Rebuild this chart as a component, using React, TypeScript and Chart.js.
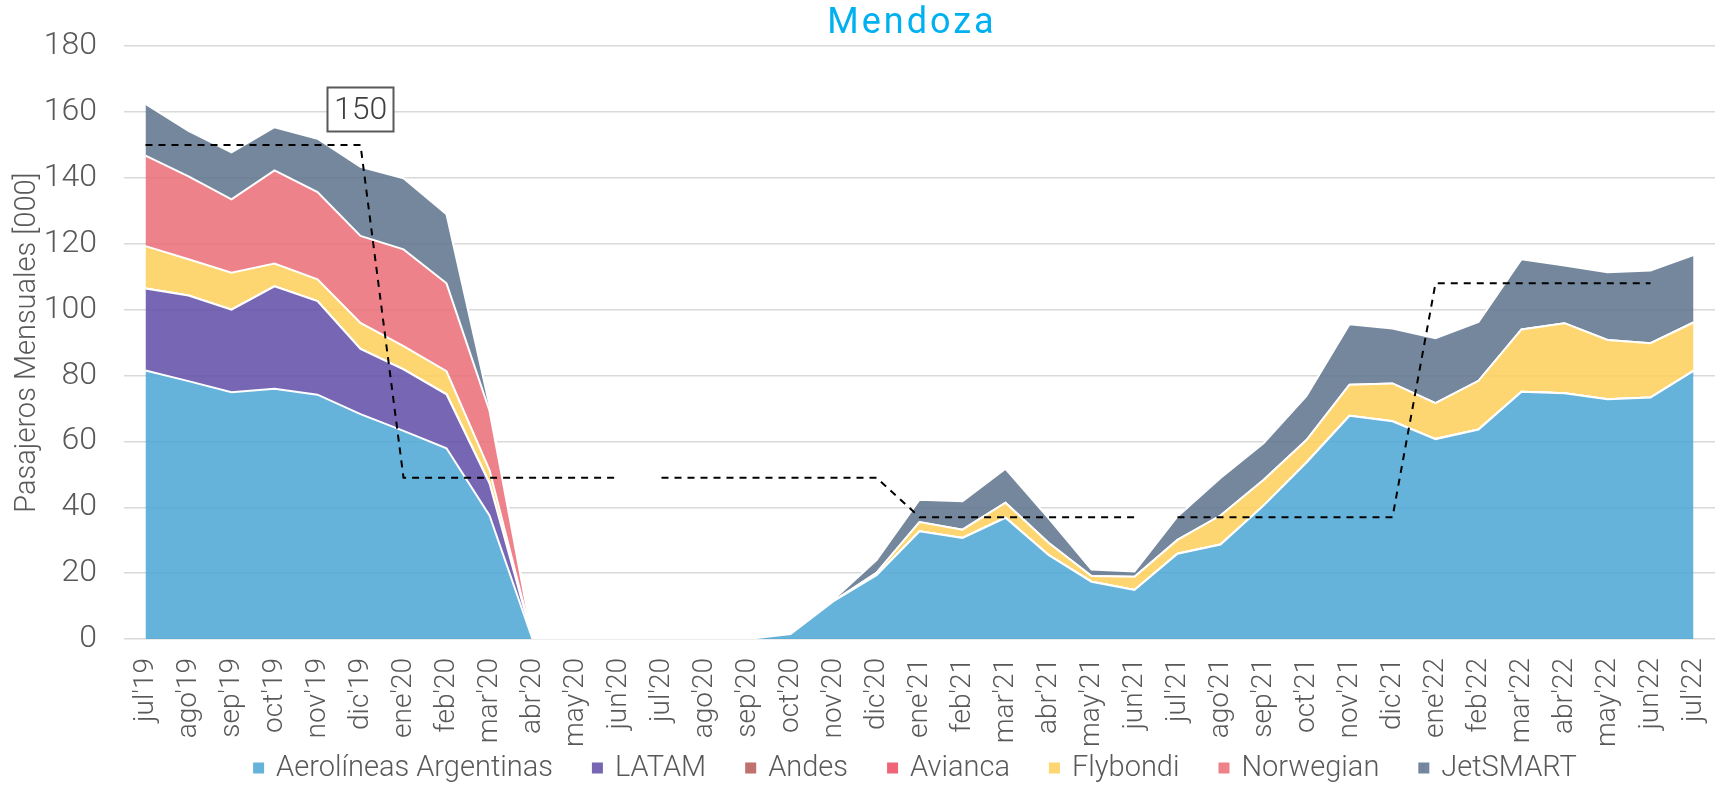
import { useEffect, useRef } from "react";
import { Chart, registerables } from "chart.js";

Chart.register(...registerables);

// ---------- DATA ----------
const months = [
  "jul'19", "ago'19", "sep'19", "oct'19", "nov'19", "dic'19",
  "ene'20", "feb'20", "mar'20", "abr'20", "may'20", "jun'20",
  "jul'20", "ago'20", "sep'20", "oct'20", "nov'20", "dic'20",
  "ene'21", "feb'21", "mar'21", "abr'21", "may'21", "jun'21",
  "jul'21", "ago'21", "sep'21", "oct'21", "nov'21", "dic'21",
  "ene'22", "feb'22", "mar'22", "abr'22", "may'22", "jun'22", "jul'22",
];

const aerolineas = [
  81.5, 78.3, 74.9, 76.0, 74.2, 68.3, 63.2, 57.9, 37.5, 0, 0, 0,
  0, 0, 0, 1.5, 11.5, 19.4, 32.7, 30.7, 36.8, 25.5, 17.4, 14.9,
  25.9, 28.7, 40.5, 53.6, 67.8, 66.1, 60.7, 63.6, 75.1, 74.6, 72.8, 73.3, 81.4,
];
const latam = [
  24.9, 26.0, 25.1, 31.1, 28.4, 19.8, 18.7, 16.4, 9.8, 0, 0, 0,
  0, 0, 0, 0, 0, 0, 0, 0, 0, 0, 0, 0,
  0, 0, 0, 0, 0, 0, 0, 0, 0, 0, 0, 0, 0,
];
const andes = [
  0, 0, 0, 0, 0, 0, 0, 0, 0, 0, 0, 0,
  0, 0, 0, 0, 0, 0, 0, 0, 0, 0, 0, 0,
  0, 0, 0, 0, 0, 0, 0, 0, 0, 0, 0, 0, 0,
];
const avianca = [
  0, 0, 0, 0, 0, 0, 0, 0, 0, 0, 0, 0,
  0, 0, 0, 0, 0, 0, 0, 0, 0, 0, 0, 0,
  0, 0, 0, 0, 0, 0, 0, 0, 0, 0, 0, 0, 0,
];
const flybondi = [
  12.9, 11.0, 11.2, 6.9, 6.6, 7.9, 7.0, 7.0, 4.0, 0, 0, 0,
  0, 0, 0, 0, 0, 0.7, 2.8, 2.5, 4.6, 3.7, 1.7, 4.0,
  4.2, 8.8, 7.8, 6.8, 9.4, 11.5, 10.9, 14.8, 18.9, 21.3, 18.0, 16.5, 14.7,
];
const norwegian = [
  27.5, 25.2, 22.3, 28.3, 26.5, 26.4, 29.4, 26.7, 18.0, 0, 0, 0,
  0, 0, 0, 0, 0, 0, 0, 0, 0, 0, 0, 0,
  0, 0, 0, 0, 0, 0, 0, 0, 0, 0, 0, 0, 0,
];
const jetsmart = [
  15.7, 13.8, 14.3, 13.1, 16.2, 21.0, 21.6, 21.0, 1.7, 0, 0, 0,
  0, 0, 0, 0, 0.5, 3.9, 6.8, 8.6, 10.3, 7.5, 2.0, 1.6,
  7.1, 11.4, 11.1, 13.4, 18.4, 16.7, 19.7, 17.9, 21.3, 17.5, 20.6, 22.1, 20.5,
];
// dashed reference line (semester levels)
const referencia = [
  150, 150, 150, 150, 150, 150, 49, 49, 49, 49, 49, 49,
  49, 49, 49, 49, 49, 49, 37, 37, 37, 37, 37, 37,
  37, 37, 37, 37, 37, 37, 108, 108, 108, 108, 108, 108, null,
];
const referenciaBreaksAfter = [11, 23];
const referenciaLabelIndex = 5;

const seriesNames = [
  "Aerolíneas Argentinas", "LATAM", "Andes", "Avianca", "Flybondi", "Norwegian", "JetSMART",
];
const seriesColors = [
  "rgba(74,164,211,0.85)",
  "rgba(95,75,167,0.85)",
  "rgba(181,87,84,0.85)",
  "rgba(237,73,96,0.85)",
  "rgba(253,207,89,0.85)",
  "rgba(235,108,117,0.85)",
  "rgba(93,114,140,0.85)",
];
const seriesValues = [aerolineas, latam, andes, avianca, flybondi, norwegian, jetsmart];

const TITLE = "Mendoza";
const Y_TITLE = "Pasajeros Mensuales [000]";
const FONT = "Roboto";
const TEXT_GRAY = "#595959";

const overlayPlugin = {
  id: "overlay",
  afterDraw(chart: any) {
    const { ctx, chartArea, scales } = chart;
    ctx.save();

    // Title
    ctx.font = `400 36px ${FONT}`;
    ctx.fillStyle = "#00B0F0";
    ctx.textAlign = "center";
    ctx.textBaseline = "alphabetic";
    (ctx as any).letterSpacing = "3px";
    ctx.fillText(TITLE, 912, 33);
    (ctx as any).letterSpacing = "0px";

    // Y axis title
    ctx.save();
    ctx.translate(35, (chartArea.top + chartArea.bottom) / 2);
    ctx.rotate(-Math.PI / 2);
    ctx.font = `300 29px ${FONT}`;
    ctx.fillStyle = TEXT_GRAY;
    ctx.textAlign = "center";
    ctx.textBaseline = "alphabetic";
    ctx.fillText(Y_TITLE, 0, 0);
    ctx.restore();

    // Label box on reference line
    const v = referencia[referenciaLabelIndex] as number;
    const lx = scales.x.getPixelForValue(referenciaLabelIndex);
    const ly = scales.y.getPixelForValue(v) - 35.5;
    const bw = 66, bh = 44;
    ctx.fillStyle = "#FFFFFF";
    ctx.fillRect(lx - bw / 2, ly - bh / 2, bw, bh);
    ctx.strokeStyle = TEXT_GRAY;
    ctx.lineWidth = 2;
    ctx.strokeRect(lx - bw / 2, ly - bh / 2, bw, bh);
    ctx.fillStyle = "#404040";
    ctx.font = `300 32px ${FONT}`;
    ctx.textAlign = "center";
    ctx.textBaseline = "middle";
    ctx.fillText(String(v), lx, ly + 1);

    // Legend
    ctx.font = `300 29px ${FONT}`;
    ctx.textAlign = "left";
    ctx.textBaseline = "alphabetic";
    const box = 11, gapText = 12, gapItem = 39;
    const widths = seriesNames.map((n) => ctx.measureText(n).width);
    const total =
      widths.reduce((a, b) => a + b, 0) + seriesNames.length * (box + gapText) + gapItem * (seriesNames.length - 1);
    let x = 915 - total / 2;
    seriesNames.forEach((n, i) => {
      ctx.fillStyle = seriesColors[i];
      ctx.fillRect(x, 762.5, box, box);
      ctx.fillStyle = TEXT_GRAY;
      ctx.fillText(n, x + box + gapText, 776);
      x += box + gapText + widths[i] + gapItem;
    });

    ctx.restore();
  },
};

export default function App() {
  const canvasRef = useRef<HTMLCanvasElement | null>(null);

  useEffect(() => {
    if (!canvasRef.current) return;
    const areaSets = seriesNames.map((name, i) => ({
      type: "line" as const,
      label: name,
      data: seriesValues[i],
      backgroundColor: seriesColors[i],
      borderColor: "#FFFFFF",
      borderWidth: 2,
      fill: i === 0 ? "origin" : "-1",
      pointRadius: 0,
      tension: 0,
      stack: "airlines",
      order: 0,
    }));
    const chart = new Chart(canvasRef.current, {
      type: "line",
      data: {
        labels: months,
        datasets: [
          ...areaSets,
          {
            type: "line",
            label: "Referencia",
            data: referencia,
            borderColor: "#000000",
            borderWidth: 2,
            borderDash: [7, 6],
            fill: false,
            pointRadius: 0,
            tension: 0,
            stack: "ref",
            order: -1,
            segment: {
              borderColor: (c: any) =>
                referenciaBreaksAfter.includes(c.p0DataIndex) ? "rgba(0,0,0,0)" : "#000000",
            },
          } as any,
        ],
      },
      options: {
        responsive: false,
        devicePixelRatio: 1,
        animation: false,
        layout: { padding: { top: 45, right: 1, left: 0, bottom: 0 } },
        plugins: {
          legend: { display: false },
          title: { display: false },
          tooltip: { enabled: false },
        },
        scales: {
          x: {
            type: "category",
            offset: true,
            grid: { display: false, drawTicks: false },
            border: { display: false },
            ticks: {
              autoSkip: false,
              maxRotation: 90,
              minRotation: 90,
              padding: 19,
              color: TEXT_GRAY,
              font: { family: FONT, size: 28, weight: "300" as any },
            },
            afterFit: (s: any) => {
              s.height = 151;
              s.paddingLeft = 0;
              s.paddingRight = 0;
            },
          },
          y: {
            stacked: true,
            min: 0,
            max: 180,
            grid: { color: "#D9D9D9", lineWidth: 1.5, drawTicks: false },
            border: { display: false },
            ticks: {
              stepSize: 20,
              padding: 27,
              color: TEXT_GRAY,
              font: { family: FONT, size: 32, weight: "300" as any },
            },
            afterFit: (s: any) => {
              s.width = 124;
            },
          },
        },
      },
      plugins: [overlayPlugin],
    });
    return () => chart.destroy();
  }, []);

  return (
    <div style={{ position: "absolute", left: 0, top: 0, width: 1716, height: 790, background: "#FFFFFF" }}>
      <canvas ref={canvasRef} width={1716} height={790} style={{ display: "block" }} />
    </div>
  );
}
